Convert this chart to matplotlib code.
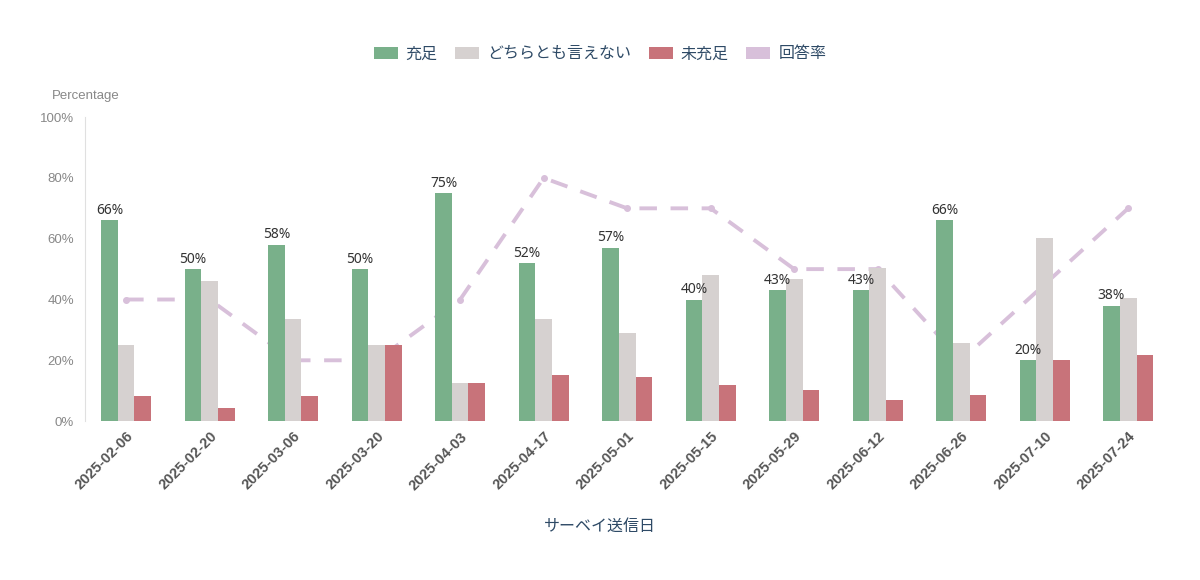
import matplotlib
matplotlib.use("Agg")
import matplotlib.pyplot as plt
from matplotlib.patches import Patch
import numpy as np

plt.rcParams['font.family'] = ['Noto Sans CJK JP', 'DejaVu Sans']

# survey dates and shares (%)
dates = ['2025-02-06', '2025-02-20', '2025-03-06', '2025-03-20', '2025-04-03',
         '2025-04-17', '2025-05-01', '2025-05-15', '2025-05-29', '2025-06-12',
         '2025-06-26', '2025-07-10', '2025-07-24']
satisfied = [66, 50, 58, 50, 75, 52, 57, 40, 43, 43, 66, 20, 38]
neutral = [25, 46, 33.5, 25, 12.5, 33.7, 29, 48.2, 46.9, 50.4, 25.7, 60.3, 40.6]
unsatisfied = [8.3, 4.3, 8.3, 25, 12.5, 15, 14.6, 12, 10.3, 7.1, 8.5, 20, 21.6]
response_rate = [40, 40, 20, 20, 40, 80, 70, 70, 50, 50, 20, 45, 70]

c_green = '#79b08a'
c_gray = '#d6d1d0'
c_red = '#c8737a'
c_line = '#d8c0da'
c_text = '#2e4a66'

fig = plt.figure(figsize=(12, 5.8), dpi=100)
ax = fig.add_axes([0.071, 0.274, 0.897, 0.524])

x = np.arange(len(dates))
w = 0.2
# line sits behind the bars
ax.plot(x, response_rate, color=c_line, lw=2.8, ls=(0, (4.5, 3.5)),
        marker='o', ms=4, zorder=1)
ax.bar(x - w, satisfied, w, color=c_green, zorder=2)
ax.bar(x, neutral, w, color=c_gray, zorder=2)
ax.bar(x + w, unsatisfied, w, color=c_red, zorder=2)

for xi, v in zip(x, satisfied):
    ax.text(xi - w, v + 0.8, f'{v:.0f}%', ha='center', va='bottom',
            fontsize=10, color='#333333', zorder=4, family=['Noto Sans'])

ax.set_xlim(-0.49, len(dates) - 0.6)
ax.set_ylim(0, 100)
ax.set_yticks([0, 20, 40, 60, 80, 100])
ax.set_yticklabels([f'{v}%' for v in [0, 20, 40, 60, 80, 100]],
                   family=['Liberation Sans'])
ax.tick_params(axis='y', length=0, labelsize=9.5, labelcolor='#888888', pad=8)
ax.set_xticks(x)
ax.set_xticklabels(dates, rotation=45, ha='right', rotation_mode='anchor',
                   fontsize=10.5, fontweight='bold', color='#555555',
                   family=['Liberation Sans'])
ax.tick_params(axis='x', length=0, pad=6)

for s in ['top', 'right', 'bottom']:
    ax.spines[s].set_visible(False)
ax.spines['left'].set_color('#e0e0e0')

fig.text(0.043, 0.829, 'Percentage', fontsize=9.5, color='#888888',
         family=['Liberation Sans'])
fig.text(0.5, 0.085, 'サーベイ送信日', fontsize=11.5, color=c_text, ha='center')

handles = [Patch(facecolor=c_green, label='充足'),
           Patch(facecolor=c_gray, label='どちらとも言えない'),
           Patch(facecolor=c_red, label='未充足'),
           Patch(facecolor=c_line, label='回答率')]
leg = fig.legend(handles=handles, loc='center', bbox_to_anchor=(0.5, 0.907),
                 ncol=4, frameon=False, fontsize=11.5, handlelength=1.5,
                 handleheight=0.8, columnspacing=1.1, handletextpad=0.5)
for t in leg.get_texts():
    t.set_color(c_text)

fig.savefig('out.png', dpi=100, facecolor='white')
